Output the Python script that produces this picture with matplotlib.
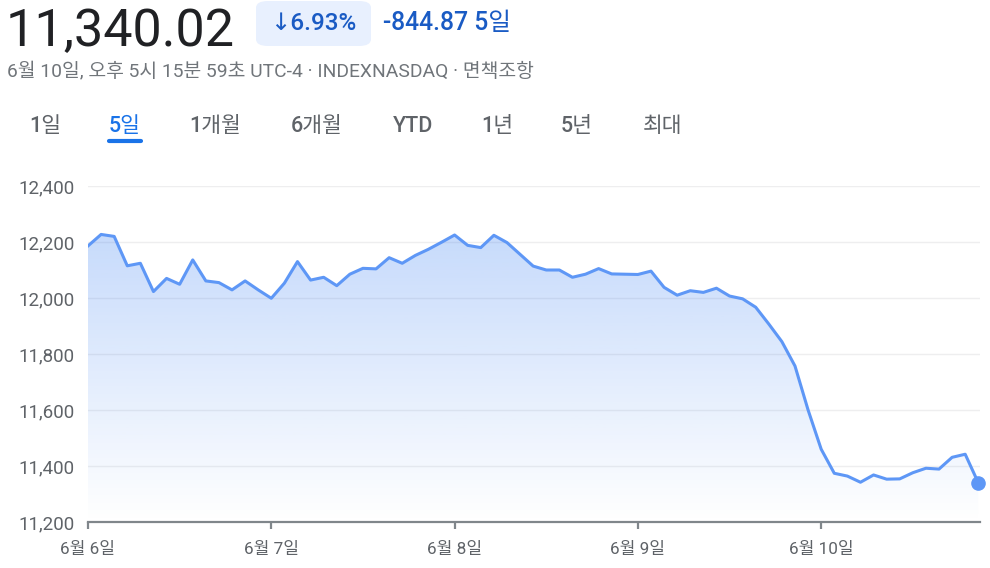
import numpy as np
import matplotlib
matplotlib.use("Agg")
import matplotlib.pyplot as plt
from matplotlib.patches import FancyBboxPatch
from matplotlib.ticker import StrMethodFormatter

plt.rcParams["font.family"] = ["Roboto", "Noto Sans CJK KR", "DejaVu Sans"]

# 30-minute closes, NASDAQ Composite, 6/6 - 6/10
jun6 = [12186, 12227, 12220, 12115, 12124, 12023, 12070, 12049, 12136, 12061, 12055, 12029, 12061, 12029]
jun7 = [11999, 12053, 12130, 12064, 12074, 12044, 12085, 12106, 12104, 12144, 12124, 12152, 12174, 12199]
jun8 = [12225, 12188, 12180, 12224, 12198, 12156, 12114, 12100, 12100, 12074, 12085, 12105, 12086, 12085]
jun9 = [12084, 12096, 12038, 12010, 12026, 12020, 12035, 12007, 11997, 11967, 11907, 11844, 11757, 11600]
jun10 = [11460, 11374, 11364, 11342, 11368, 11353, 11354, 11376, 11392, 11389, 11431, 11442, 11340]

day_labels = ["6월 6일", "6월 7일", "6월 8일", "6월 9일", "6월 10일"]
y_ticks = [11200, 11400, 11600, 11800, 12000, 12200, 12400]
tabs = ["1일", "5일", "1개월", "6개월", "YTD", "1년", "5년", "최대"]
active_tab = "5일"

price = "11,340.02"
pct_change = "↓6.93%"
abs_change = "-844.87 5일"
subtitle = "6월 10일, 오후 5시 15분 59초 UTC-4 · INDEXNASDAQ · 면책조항"

days = [jun6, jun7, jun8, jun9, jun10]
values = np.array(sum(days, []), dtype=float)
x = np.arange(len(values))
day_starts = np.cumsum([0] + [len(d) for d in days[:-1]])

W, H = 990, 568
fig = plt.figure(figsize=(W / 100, H / 100), dpi=100)


def fx(px):
    return px / W


def fy(py):
    return 1 - py / H


LINE = "#5e97f6"
GRAY = "#5f6368"
BLUE = "#1a5bc4"

ax = fig.add_axes([fx(88), fy(522), fx(980) - fx(88), fy(186) - fy(522)])
ax.set_xlim(0, len(values) - 1 + 0.13)
ax.set_ylim(y_ticks[0], y_ticks[-1])

# gradient fill under the line
poly = ax.fill_between(x, values, y_ticks[0], facecolor="none", edgecolor="none")
img = np.zeros((256, 1, 4))
img[..., 0] = 66 / 255
img[..., 1] = 133 / 255
img[..., 2] = 244 / 255
img[..., 3] = np.linspace(0.0, 0.30, 256)[:, None]
im = ax.imshow(img, aspect="auto", origin="lower",
               extent=[0, len(values) - 1, y_ticks[0], values.max()], zorder=1)
im.set_clip_path(poly.get_paths()[0], transform=ax.transData)

for yv in y_ticks[1:]:
    ax.axhline(yv, color="#eeeeef", lw=1, zorder=0)

ax.plot(x, values, color=LINE, lw=2.2, zorder=3, solid_joinstyle="round")
ax.plot(x[-1], values[-1], "o", color=LINE, ms=9.5, zorder=4, clip_on=False)

for side in ["left", "right", "top"]:
    ax.spines[side].set_visible(False)
ax.spines["bottom"].set_color("#80868b")
ax.spines["bottom"].set_linewidth(1.6)

ax.set_yticks(y_ticks)
ax.yaxis.set_major_formatter(StrMethodFormatter("{x:,.0f}"))
ax.tick_params(axis="y", length=0, pad=9.5, labelsize=13.5, labelcolor=GRAY)
ax.set_xticks(day_starts)
ax.set_xticklabels(day_labels)
ax.tick_params(axis="x", direction="out", length=5, width=1.6, color="#80868b",
               pad=9.5, labelsize=12.3, labelcolor=GRAY)

# header
fig.text(fx(6), fy(46), price, fontsize=37.5, color="#202124", va="baseline", ha="left")
badge = FancyBboxPatch((fx(256), fy(46)), fx(371) - fx(256), fy(1) - fy(46),
                       boxstyle="round,pad=0,rounding_size=0.012",
                       transform=fig.transFigure, facecolor="#e8f0fe", edgecolor="none")
fig.patches.append(badge)
fig.text(fx(313), fy(24), pct_change, fontsize=17.5, color=BLUE, weight="medium",
         ha="center", va="center", family=["Roboto", "DejaVu Sans"])
fig.text(fx(383), fy(23), abs_change, fontsize=17.8, color=BLUE, weight="medium",
         ha="left", va="center")
fig.text(fx(7), fy(71), subtitle, fontsize=13.9, color="#70757a", ha="left", va="center")

tab_x = [45, 125, 215, 317, 413, 497, 577, 663]
for label, tx in zip(tabs, tab_x):
    col = "#1a73e8" if label == active_tab else GRAY
    fig.text(fx(tx), fy(126), label, fontsize=15.5, color=col, weight="medium",
             ha="center", va="center")
    if label == active_tab:
        fig.add_artist(plt.Line2D([fx(tx - 16), fx(tx + 16)], [fy(141), fy(141)],
                                  color="#1a73e8", lw=3, solid_capstyle="round",
                                  transform=fig.transFigure))

fig.savefig("out.png", dpi=100)
